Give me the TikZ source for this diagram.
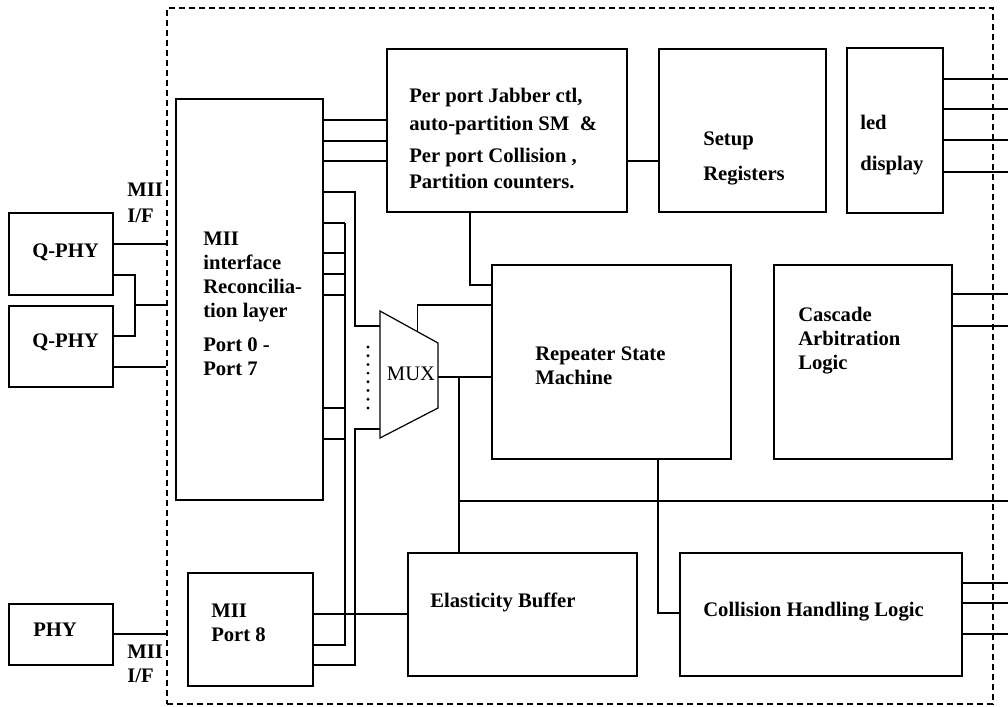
\documentclass[tikz,border=0pt]{standalone}
\usepackage{fontspec}
\setmainfont{Liberation Serif}
\usetikzlibrary{fit,calc}
\tikzset{
  blk/.style={draw,line width=0.9pt,inner sep=0pt},
  chipbox/.style={draw,line width=0.9pt,dash pattern=on 4.5pt off 3pt,inner sep=0pt},
  txt/.style={anchor=north west,inner sep=0pt,align=left,
              font=\fontsize{15.5}{18}\selectfont\bfseries},
  muxtxt/.style={inner sep=0pt,font=\fontsize{15.5}{18}\selectfont},
  wire/.style={line width=0.8pt},
}

\begin{document}
\begin{tikzpicture}[x=0.75pt,y=-0.75pt]
\useasboundingbox (0,0) rectangle (1008,707);
\node[chipbox,fit={(167,8) (993,704)}] (chip) {};
\coordinate (rim) at (1008,0);
% outside the chip
\node[blk,fit={(9,213) (113,295)}] (qa) {};
\node[blk,fit={(9,306) (113,387)}] (qb) {};
\node[blk,fit={(9,604) (113,665)}] (phy) {};
\node[txt] (qa-t) at (32,244) {Q-PHY};
\node[txt] (qb-t) at (32,334) {Q-PHY};
\node[txt] (phy-t) at (33,623) {PHY};
\node[txt] (ifa) at (127,183) {MII\\[1pt]I/F};
\node[txt] (ifb) at (127,645) {MII\\I/F};
% blocks
\node[blk,fit={(176,99) (323,500)}] (mii) {};
\node[blk,fit={(188,573) (313,686)}] (p8) {};
\node[blk,fit={(387,49) (627,212)}] (pp) {};
\node[blk,fit={(659,49) (826,212)}] (setup) {};
\node[blk,fit={(847,48) (943,213)}] (led) {};
\node[blk,fit={(492,265) (731,459)}] (rsm) {};
\node[blk,fit={(774,265) (952,459)}] (cal) {};
\node[blk,fit={(408,553) (637,676)}] (eb) {};
\node[blk,fit={(680,553) (962,676)}] (chl) {};
\node[txt] (mii-t) at (203,232) {MII\\interface\\Reconcilia-\\tion layer\\[7.5pt]Port 0 -\\Port 7};
\node[txt] (p8-t) at (211,604) {MII\\Port 8};
\node[txt] (pp-t) at (409,88) {Per port Jabber ctl,\\[3pt]auto-partition SM\ \ \&\\[6pt]Per port Collision ,\\[1.5pt]Partition counters.};
\node[txt] (setup-t) at (703,132) {Setup\\[8.25pt]Registers};
\node[txt] (led-t) at (860,115) {led\\[12.75pt]display};
\node[txt] (rsm-t) at (535,347) {Repeater State\\[-0.5pt]Machine};
\node[txt] (cal-t) at (798,307) {Cascade\\Arbitration\\Logic};
\node[txt] (eb-t) at (430,593) {Elasticity Buffer};
\node[txt] (chl-t) at (703,602) {Collision Handling Logic};
% mux
\coordinate (muxA) at (380,311);
\coordinate (muxB) at (438,343);
\coordinate (muxC) at (438,408);
\coordinate (muxD) at (380,438);
\draw[blk] (muxA) -- (muxB) -- (muxC) -- (muxD) -- cycle;
\node[muxtxt] (mux) at (411,374) {MUX};
\foreach \i in {0,...,7} \fill (368,347+8.7*\i) circle[radius=1.2pt];
% connectors
\draw[wire] (qa.east |- 0,244) -- (chip.west |- 0,244);
\draw[wire] (qa.east |- 0,275) -- (135,275) -- (135,336) -- (qb.east |- 0,336);
\draw[wire] (135,305) -- (chip.west |- 0,305);
\draw[wire] (qb.east |- 0,367) -- (chip.west |- 0,367);
\draw[wire] (phy.east |- 0,634) -- (chip.west |- 0,634);
\foreach \y in {120,141,161} \draw[wire] (mii.east |- 0,\y) -- (pp.west |- 0,\y);
\draw[wire] (pp.east |- 0,161) -- (setup.west |- 0,161);
\foreach \y in {79,109,140,172} \draw[wire] (led.east |- 0,\y) -- (rim |- 0,\y);
\foreach \y in {294,326} \draw[wire] (cal.east |- 0,\y) -- (rim |- 0,\y);
\foreach \y in {583,603,634} \draw[wire] (chl.east |- 0,\y) -- (rim |- 0,\y);
\draw[wire] (mii.east |- 0,192) -| (355,326) -- (muxA |- 0,326);
\foreach \y in {223,253,274,295,408,439} \draw[wire] (mii.east |- 0,\y) -- (345,\y);
\draw[wire] (345,223) -- (345,645) -- (p8.east |- 0,645);
\draw[wire] (muxD |- 0,429) -| (355,665) -- (p8.east |- 0,665);
\draw[wire] (p8.east |- 0,614) -- (eb.west |- 0,614);
\draw[wire] (muxB |- 0,377) -- (rsm.west |- 0,377);
\draw[wire] ($(muxA)!0.64!(muxB)$) |- (rsm.west |- 0,305);
\draw[wire] (pp.south -| 470,0) |- (rsm.west |- 0,285);
\draw[wire] (459,377) -- (eb.north -| 459,0);
\draw[wire] (459,501) -- (rim |- 0,501);
\draw[wire] (rsm.south -| 658,0) |- (chl.west |- 0,613);
\end{tikzpicture}
\end{document}
